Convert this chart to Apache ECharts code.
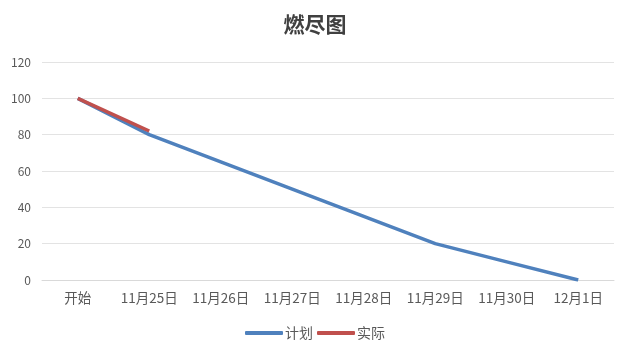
<!DOCTYPE html>
<html><head><meta charset="utf-8">
<script src="https://cdn.jsdelivr.net/npm/echarts@6/dist/echarts.min.js"></script>
<style>html,body{margin:0;padding:0;background:#fff}#c{width:630px;height:358px}</style>
</head><body><div id="c"></div>
<script>
const categories = ['开始','11月25日','11月26日','11月27日','11月28日','11月29日','11月30日','12月1日'];
const planValues = [100, 80, 65, 50, 35, 20, 10, 0];
const actualValues = [100, 82];
const yTicks = {min: 0, max: 120, interval: 20};

const chart = echarts.init(document.getElementById('c'));
chart.setOption({
  animation: false,
  title: {
    text: '燃尽图', left: 'center', top: 9,
    textStyle: {fontFamily: 'Noto Sans CJK SC', fontSize: 21, fontWeight: 'bold', color: '#404040'}
  },
  grid: {left: 42, right: 16, top: 62, bottom: 78, outerBoundsMode: 'none'},
  legend: {
    bottom: 13, left: 'center', itemGap: 4, itemWidth: 38, itemHeight: 4,
    icon: 'roundRect',
    textStyle: {fontFamily: 'Noto Sans CJK SC', fontSize: 14, color: '#595959', padding: [0,0,0,-3]},
    data: ['计划','实际']
  },
  xAxis: {
    type: 'category', data: categories, boundaryGap: true,
    axisLine: {lineStyle: {color: '#d9d9d9'}}, axisTick: {show: false},
    axisLabel: {fontFamily: 'Noto Sans CJK SC', fontSize: 13.5, color: '#595959', margin: 11, interval: 0}
  },
  yAxis: {
    type: 'value', min: yTicks.min, max: yTicks.max, interval: yTicks.interval,
    axisLine: {show: false}, axisTick: {show: false},
    splitLine: {lineStyle: {color: '#e3e3e3'}},
    axisLabel: {fontFamily: 'Noto Sans CJK SC', fontSize: 12, color: '#595959', margin: 11}
  },
  series: [
    {name: '计划', type: 'line', data: planValues, symbol: 'none', lineStyle: {width: 3.5, color: '#4f81bd'}, itemStyle: {color: '#4f81bd'}},
    {name: '实际', type: 'line', data: actualValues, symbol: 'none', lineStyle: {width: 3.5, color: '#c0504d'}, itemStyle: {color: '#c0504d'}}
  ]
});
</script></body></html>
